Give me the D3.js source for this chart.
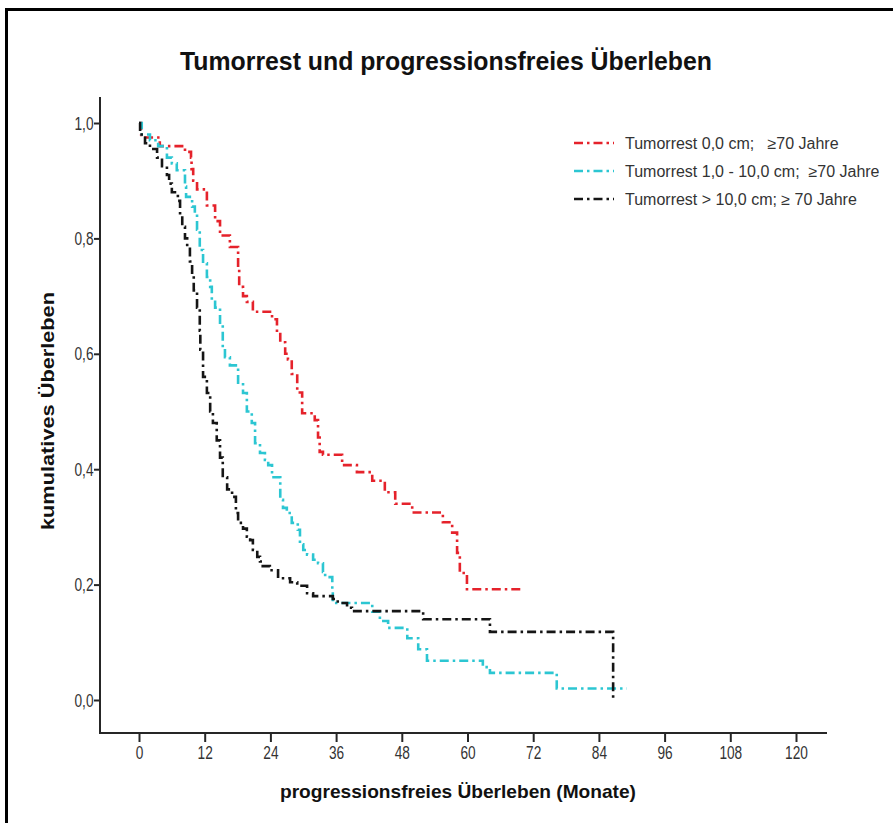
<!DOCTYPE html>
<html>
<head>
<meta charset="utf-8">
<script src="https://cdn.jsdelivr.net/npm/d3@7"></script>
<style>
  html, body { margin: 0; padding: 0; background: #fff; }
  svg { display: block; }
  text { font-family: "Liberation Sans", Arial, sans-serif; }
</style>
</head>
<body>
<svg id="chart" width="893" height="823"></svg>
<script>
// ---- data (months, cumulative survival) ----
const xTicks = [0, 12, 24, 36, 48, 60, 72, 84, 96, 108, 120];
const yTicks = [0, 0.2, 0.4, 0.6, 0.8, 1.0];
const seriesNames = [
  "Tumorrest 0,0 cm;   \u226570 Jahre",
  "Tumorrest 1,0 - 10,0 cm;  \u226570 Jahre",
  "Tumorrest > 10,0 cm; \u2265 70 Jahre"
];
const seriesColors = ["#e5222b", "#2cc6d2", "#151515"];

const redCurve = [
  [0, 1.0], [0.4, 0.975], [3.8, 0.96], [8.4, 0.95], [9.5, 0.94], [9.6, 0.92], [9.9, 0.90],
  [10.6, 0.885], [12.4, 0.857], [13.9, 0.83], [14.8, 0.805], [16.6, 0.785], [18.1, 0.75],
  [18.3, 0.716], [19.0, 0.70], [19.7, 0.69], [20.8, 0.673], [24.3, 0.66], [25.2, 0.64],
  [25.8, 0.62], [26.7, 0.60], [27.2, 0.59], [27.9, 0.565], [28.9, 0.533], [29.8, 0.497],
  [32.1, 0.485], [32.7, 0.455], [33.0, 0.43], [33.6, 0.425], [37.1, 0.407], [39.8, 0.395],
  [42.6, 0.38], [44.9, 0.36], [46.8, 0.34], [49.9, 0.325], [55.5, 0.308], [57.2, 0.29],
  [58.1, 0.255], [58.6, 0.22], [59.9, 0.192], [70.0, 0.192]
];
const cyanCurve = [
  [0, 1.0], [0.5, 0.98], [2.0, 0.97], [3.5, 0.96], [5.1, 0.94], [6.0, 0.93], [6.9, 0.918],
  [8.4, 0.89], [8.6, 0.872], [9.7, 0.855], [10.2, 0.844], [10.6, 0.815], [11.1, 0.78],
  [11.7, 0.757], [12.4, 0.733], [13.0, 0.716], [13.3, 0.693], [13.9, 0.68], [14.8, 0.65],
  [15.3, 0.61], [15.7, 0.594], [16.6, 0.58], [18.1, 0.55], [19.0, 0.532], [19.7, 0.50],
  [20.6, 0.48], [21.2, 0.445], [22.1, 0.428], [23.0, 0.416], [23.6, 0.407], [24.3, 0.386],
  [25.8, 0.347], [26.3, 0.333], [27.0, 0.324], [27.9, 0.307], [29.0, 0.295], [29.4, 0.27],
  [30.0, 0.26], [30.7, 0.252], [31.8, 0.243], [32.7, 0.237], [33.6, 0.222], [34.0, 0.213],
  [35.3, 0.19], [35.4, 0.168], [42.6, 0.153], [44.0, 0.137], [45.5, 0.125], [49.0, 0.107],
  [51.0, 0.088], [52.6, 0.068], [62.8, 0.057], [64.1, 0.047], [76.3, 0.02], [89.1, 0.02]
];
const blackCurve = [
  [0, 1.0], [0.2, 0.98], [1.1, 0.965], [2.0, 0.955], [3.3, 0.94], [4.2, 0.925], [5.1, 0.91],
  [5.5, 0.895], [6.0, 0.88], [7.1, 0.865], [7.5, 0.84], [7.9, 0.82], [8.4, 0.80], [8.8, 0.785],
  [9.3, 0.76], [9.7, 0.735], [10.0, 0.71], [10.6, 0.68], [11.1, 0.64], [11.2, 0.607],
  [11.7, 0.56], [12.4, 0.532], [13.0, 0.50], [13.5, 0.48], [14.2, 0.45], [14.8, 0.42],
  [15.3, 0.386], [16.1, 0.365], [17.0, 0.352], [17.7, 0.324], [18.1, 0.307], [19.0, 0.297],
  [19.7, 0.283], [20.3, 0.277], [20.8, 0.26], [21.6, 0.248], [22.1, 0.24], [22.6, 0.232],
  [23.9, 0.225], [25.4, 0.211], [27.6, 0.204], [28.9, 0.198], [30.7, 0.185], [31.8, 0.18],
  [35.4, 0.175], [36.3, 0.168], [38.0, 0.16], [38.9, 0.154], [51.9, 0.14], [64.1, 0.118],
  [86.6, 0.0]
];
const curves = [redCurve, cyanCurve, blackCurve];

// ---- drawing ----
const svg = d3.select("#chart");
const x = d3.scaleLinear().domain([0, 120]).range([139, 796]);
const y = d3.scaleLinear().domain([0, 1]).range([700, 123]);
const axisColor = "#262626";
const labelColor = "#333";
const narrow = 0.72;

// frame
svg.append("path")
  .attr("d", "M6.5,823 V9.5 H893")
  .attr("fill", "none").attr("stroke", "#000").attr("stroke-width", 3);

// title
svg.append("text")
  .attr("x", 446).attr("y", 70)
  .attr("text-anchor", "middle")
  .attr("font-size", 25).attr("font-weight", "bold").attr("fill", "#111")
  .attr("textLength", 532).attr("lengthAdjust", "spacingAndGlyphs")
  .text("Tumorrest und progressionsfreies \u00dcberleben");

// axes lines
svg.append("line").attr("x1", 100).attr("x2", 100).attr("y1", 97).attr("y2", 733)
  .attr("stroke", axisColor).attr("stroke-width", 2);
svg.append("line").attr("x1", 99).attr("x2", 827).attr("y1", 733).attr("y2", 733)
  .attr("stroke", axisColor).attr("stroke-width", 2);

// y axis
const yAxis = svg.append("g").attr("transform", "translate(100,0)")
  .call(d3.axisLeft(y).tickValues(yTicks).tickSize(6).tickPadding(3)
    .tickFormat(d => d3.format(".1f")(d).replace(".", ",")));
yAxis.select(".domain").remove();
yAxis.selectAll(".tick line").attr("stroke", axisColor).attr("stroke-width", 2);
yAxis.selectAll(".tick text")
  .attr("font-size", 19).attr("fill", labelColor)
  .attr("font-family", "'Liberation Sans', Arial, sans-serif")
  .attr("transform", `scale(${narrow},1)`);

// x axis
const xAxis = svg.append("g").attr("transform", "translate(0,733)")
  .call(d3.axisBottom(x).tickValues(xTicks).tickSize(9).tickPadding(4));
xAxis.select(".domain").remove();
xAxis.selectAll(".tick line").attr("stroke", axisColor).attr("stroke-width", 2);
xAxis.selectAll(".tick text")
  .attr("font-size", 19).attr("fill", labelColor)
  .attr("font-family", "'Liberation Sans', Arial, sans-serif")
  .attr("transform", `scale(${narrow},1)`);

// axis titles
svg.append("text")
  .attr("x", 458).attr("y", 798)
  .attr("text-anchor", "middle")
  .attr("font-size", 19).attr("font-weight", "bold").attr("fill", "#111")
  .attr("textLength", 356).attr("lengthAdjust", "spacingAndGlyphs")
  .text("progressionsfreies \u00dcberleben (Monate)");
svg.append("text")
  .attr("transform", "translate(54,411) rotate(-90)")
  .attr("text-anchor", "middle")
  .attr("font-size", 19).attr("font-weight", "bold").attr("fill", "#111")
  .attr("textLength", 238).attr("lengthAdjust", "spacingAndGlyphs")
  .text("kumulatives \u00dcberleben");

// curves
const line = d3.line().x(d => x(d[0])).y(d => y(d[1])).curve(d3.curveStepAfter);
const dash = "9,4,2.5,4";
svg.append("g").selectAll("path").data(curves).join("path")
  .attr("d", d => line(d))
  .attr("fill", "none")
  .attr("stroke", (d, i) => seriesColors[i])
  .attr("stroke-width", 2.6)
  .attr("stroke-dasharray", dash);

// legend
const legendRows = [143, 171, 199];
const legend = svg.append("g");
seriesNames.forEach((name, i) => {
  legend.append("line")
    .attr("x1", 574).attr("x2", 614).attr("y1", legendRows[i]).attr("y2", legendRows[i])
    .attr("stroke", seriesColors[i]).attr("stroke-width", 2.6)
    .attr("stroke-dasharray", dash);
  legend.append("text")
    .attr("x", 625).attr("y", legendRows[i] + 5.5)
    .attr("font-size", 16).attr("fill", "#333")
    .attr("xml:space", "preserve")
    .style("white-space", "pre")
    .text(name);
});
</script>
</body>
</html>
